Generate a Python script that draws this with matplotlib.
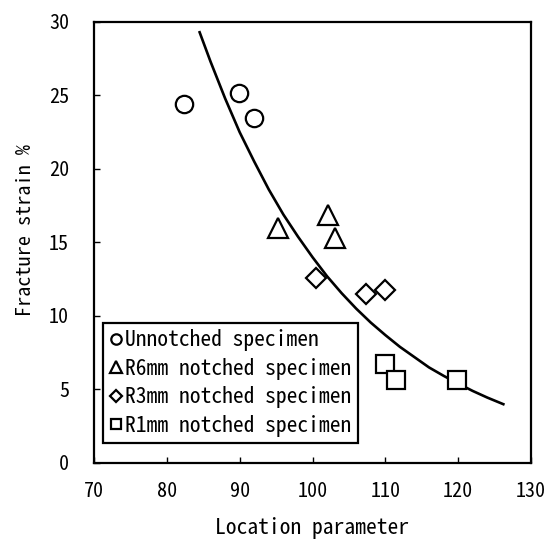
import numpy as np
import matplotlib
matplotlib.use("Agg")
import matplotlib.pyplot as plt

# font: narrow monospaced look of the original (MS Gothic style)
plt.rcParams['font.family'] = ['Noto Sans Mono CJK JP', 'DejaVu Sans Mono']

# data
unnotched_x = [82.4, 89.9, 92.0]
unnotched_y = [24.4, 25.2, 23.45]
r6_x = [95.3, 102.1, 103.1]
r6_y = [16.0, 16.9, 15.3]
r3_x = [100.5, 107.4, 109.9]
r3_y = [12.56, 11.48, 11.77]
r1_x = [109.9, 111.5, 119.9]
r1_y = [6.71, 5.65, 5.65]

# trend curve, points
curve_x = [84.5, 86, 88, 90, 92, 94, 96, 98, 100, 102, 104, 106, 108, 110,
           112, 114, 116, 118, 120, 122, 124, 126.2]
curve_y = [29.3, 27.3, 24.8, 22.5, 20.5, 18.6, 16.9, 15.4, 14.0, 12.7, 11.55,
           10.5, 9.55, 8.7, 7.9, 7.2, 6.5, 5.93, 5.4, 4.9, 4.45, 4.0]

legend_labels = ['Unnotched specimen', 'R6mm notched specimen',
                 'R3mm notched specimen', 'R1mm notched specimen']

fig = plt.figure(figsize=(5.55, 5.44), dpi=100)
ax = fig.add_axes([0.1694, 0.1489, 0.7874, 0.8107])

ax.plot(curve_x, curve_y, color='black', lw=1.9, zorder=1)

mk = dict(linestyle='none', markerfacecolor='white', markeredgecolor='black',
          markeredgewidth=1.6, zorder=3)
h1, = ax.plot(unnotched_x, unnotched_y, marker='o', markersize=12.5, **mk)
h2, = ax.plot(r6_x, r6_y, marker='^', markersize=14, **mk)
h3, = ax.plot(r3_x, r3_y, marker='D', markersize=10.5, **mk)
h4, = ax.plot(r1_x, r1_y, marker='s', markersize=13, **mk)

ax.set_xlim(70, 130)
ax.set_ylim(0, 30)
ax.set_xticks(np.arange(70, 131, 10))
ax.set_yticks(np.arange(0, 31, 5))
ax.tick_params(direction='in', length=4, width=1, labelsize=14.5)
ax.tick_params(axis='x', pad=14)
ax.tick_params(axis='y', pad=18)
for s in ax.spines.values():
    s.set_linewidth(1.6)

ax.set_xlabel('Location parameter', fontsize=15.5, labelpad=11)
ax.set_ylabel('Fracture strain %', fontsize=14.5)
ax.yaxis.set_label_coords(-0.135, 0.528)

leg = ax.legend([h1, h2, h3, h4], legend_labels, loc='lower left',
                bbox_to_anchor=(0.02, 0.045), borderaxespad=0,
                fontsize=15.5, markerscale=0.6, handlelength=0.6,
                handletextpad=0.15, borderpad=0.3, labelspacing=0.3,
                fancybox=False, framealpha=1, edgecolor='black')
leg.get_frame().set_linewidth(1.6)

fig.savefig('out.png', dpi=100)
